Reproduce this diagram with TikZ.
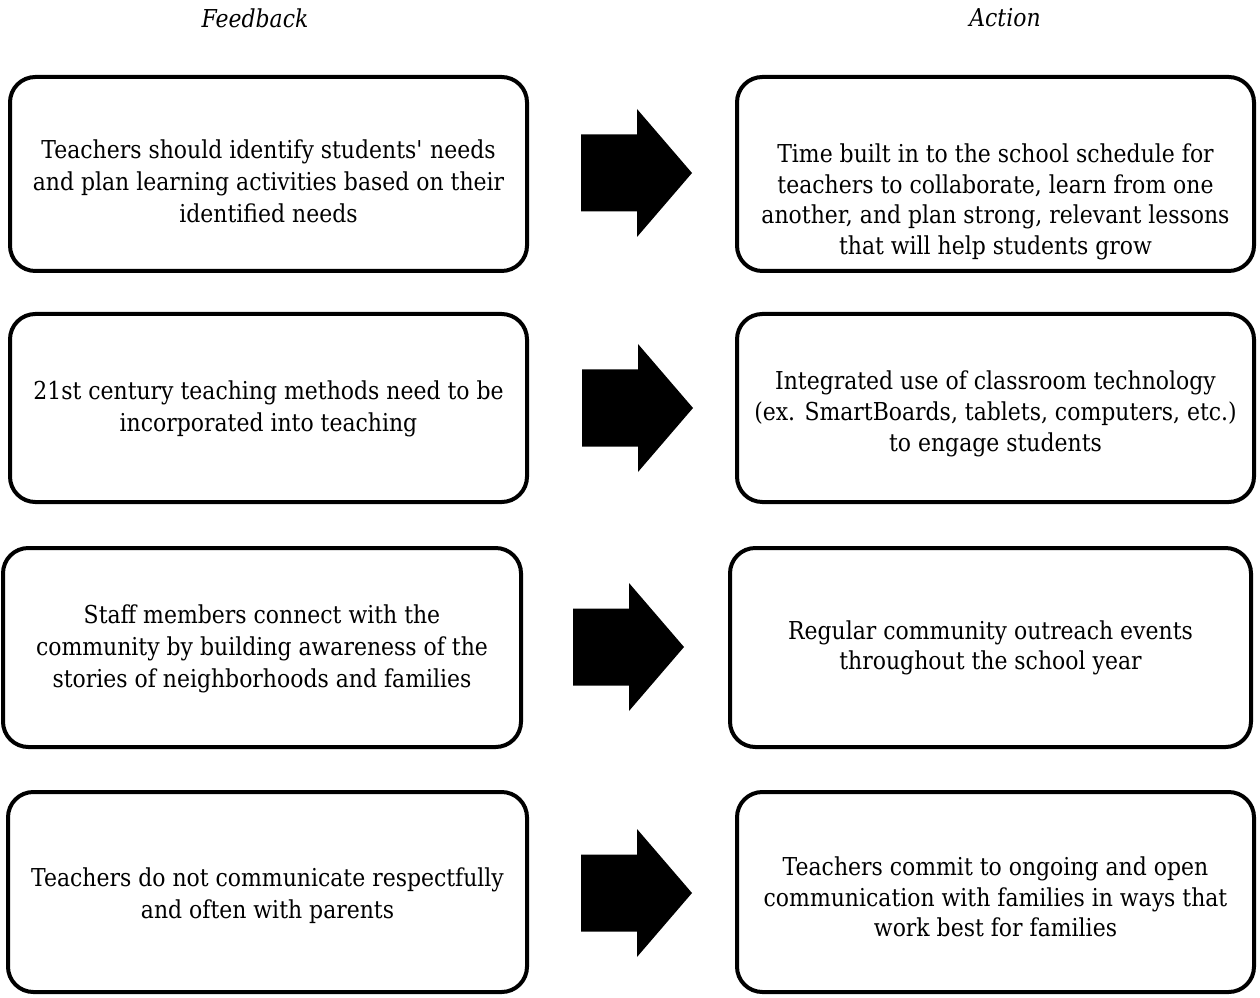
\documentclass[tikz,border=0pt]{standalone}
\usepackage{fontspec}
\setmainfont{DejaVu Serif}[FakeStretch=0.89]
\begin{document}
\begin{tikzpicture}[x=0.75pt,y=-0.75pt,
  boxnode/.style={draw=black,line width=3pt,rounded corners=19pt,fill=white,inner sep=0pt},
  txtnode/.style={align=center,inner sep=0pt,font=\fontsize{18.5}{24}\selectfont},
  rtxtnode/.style={align=center,inner sep=0pt,font=\fontsize{18.5}{23}\selectfont},
  headnode/.style={inner sep=0pt,font=\fontsize{18.5}{24}\selectfont\itshape},
  blockarrow/.style={fill=black}]
\useasboundingbox (0,0) rectangle (1260,998);
\fill[white] (0,0) rectangle (1260,998);

\node[headnode] (hf) at (255,18) {Feedback};
\node[headnode] (ha) at (1005,18) {Action};

% boxes
\node[boxnode,minimum width=517*0.75pt,minimum height=194*0.75pt] (f1) at (268.5,174) {};
\node[boxnode,minimum width=517*0.75pt,minimum height=194*0.75pt] (a1) at (995.5,174) {};
\node[boxnode,minimum width=517*0.75pt,minimum height=188*0.75pt] (f2) at (268.5,408) {};
\node[boxnode,minimum width=517*0.75pt,minimum height=188*0.75pt] (a2) at (995.5,408) {};
\node[boxnode,minimum width=518*0.75pt,minimum height=199*0.75pt] (f3) at (262,647.5) {};
\node[boxnode,minimum width=521*0.75pt,minimum height=199*0.75pt] (a3) at (990.5,647.5) {};
\node[boxnode,minimum width=519*0.75pt,minimum height=200*0.75pt] (f4) at (267.5,892) {};
\node[boxnode,minimum width=517*0.75pt,minimum height=200*0.75pt] (a4) at (995.5,892) {};

% texts
\node[txtnode] (f1t) at (268.5,181) {Teachers should identify students\textquotesingle\ needs\\and plan learning activities based on their\\identified needs};
\node[rtxtnode] (a1t) at (995.5,202) {Time built in to the school schedule for\\teachers to collaborate, learn from one\\another, and plan strong, relevant lessons\\that will help students grow};
\node[txtnode] (f2t) at (268.5,409) {21st century teaching methods need to be\\incorporated into teaching};
\node[rtxtnode] (a2t) at (995.5,414) {Integrated use of classroom technology\\(ex. SmartBoards, tablets, computers, etc.)\\to engage students};
\node[txtnode] (f3t) at (262,649) {Staff members connect with the\\community by building awareness of the\\stories of neighborhoods and families};
\node[rtxtnode] (a3t) at (990.5,648) {Regular community outreach events\\throughout the school year};
\node[txtnode] (f4t) at (267.5,896) {Teachers do not communicate respectfully\\and often with parents};
\node[rtxtnode] (a4t) at (995.5,897) {Teachers commit to ongoing and open\\communication with families in ways that\\work best for families};

% block arrows
\coordinate (p1) at (581,173);
\coordinate (p2) at (582,408);
\coordinate (p3) at (573,647);
\coordinate (p4) at (581,893);
\foreach \p in {p1,p2,p3,p4}{
  \fill[blockarrow] (\p) ++(0,-38.5) -- ++(56,0) -- ++(0,-25.5) -- ++(55,64) -- ++(-55,64) -- ++(0,-25.5) -- ++(-56,0) -- cycle;
}
\end{tikzpicture}
\end{document}
